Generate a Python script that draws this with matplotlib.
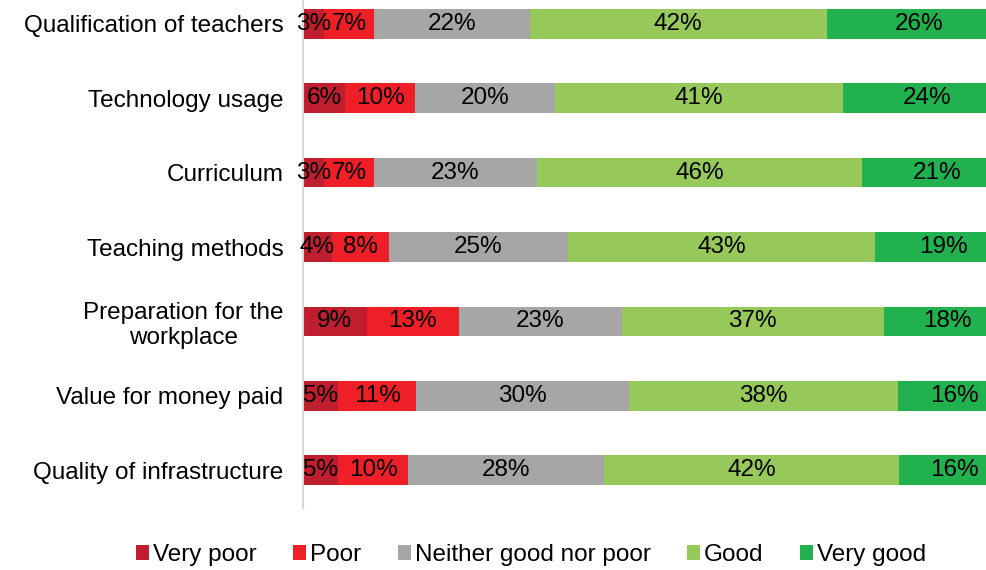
import matplotlib.pyplot as plt
import numpy as np

plt.rcParams['font.family'] = ['Liberation Sans', 'DejaVu Sans']

categories = ['Qualification of teachers', 'Technology usage', 'Curriculum',
              'Teaching methods', 'Preparation for the\nworkplace',
              'Value for money paid', 'Quality of infrastructure']
series = ['Very poor', 'Poor', 'Neither good nor poor', 'Good', 'Very good']
very_poor = [3, 6, 3, 4, 9, 5, 5]
poor = [7, 10, 7, 8, 13, 11, 10]
neither = [22, 20, 23, 25, 23, 30, 28]
good = [42, 41, 46, 43, 37, 38, 42]
very_good = [26, 24, 21, 19, 18, 16, 16]
colors = ['#be1e2d', '#ee1f27', '#a6a6a6', '#96c85a', '#21b14f']

data = np.array([very_poor, poor, neither, good, very_good], dtype=float)
# 100% stacked: each row scaled to fill the full width
widths = data / data.sum(axis=0) * 100

fig = plt.figure(figsize=(9.86, 5.70), dpi=100)
ax = fig.add_axes([303 / 986, 62.5 / 570, 708 / 986, 521 / 570])

y = np.arange(len(categories))
left = np.zeros(len(categories))
for i, name in enumerate(series):
    ax.barh(y, widths[i], left=left, height=0.4, color=colors[i],
            label=name, edgecolor='none')
    for j in range(len(categories)):
        ax.text(left[j] + widths[i][j] / 2, y[j], '%d%%' % data[i][j],
                ha='center', va='center', fontsize=17.5, color='black')
    left += widths[i]

ax.set_xlim(0, 100)
ax.set_ylim(len(categories) - 0.5, -0.5)
ax.set_yticks(y)
ax.set_yticklabels(categories, fontsize=17.5, multialignment='center')
ax.tick_params(axis='y', length=0, pad=14)
ax.set_xticks([])

for s in ['top', 'right', 'bottom']:
    ax.spines[s].set_visible(False)
ax.spines['left'].set_color('#d9d9d9')
ax.spines['left'].set_linewidth(1.5)

fig.legend(loc='center', bbox_to_anchor=(531 / 986, 15 / 570), ncol=5,
           frameon=False, fontsize=17.5, handlelength=0.55, handleheight=0.55,
           handletextpad=0.15, columnspacing=1.5)

fig.savefig('out.png', dpi=100)
